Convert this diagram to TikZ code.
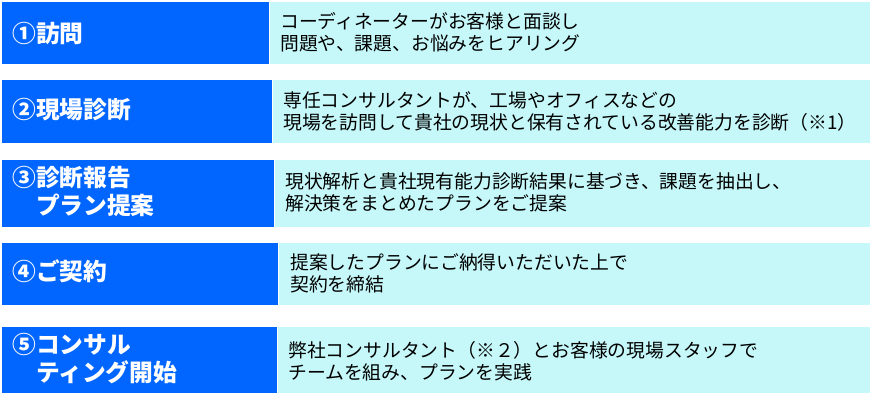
\documentclass[tikz,border=0pt]{standalone}
\usepackage{fontspec}
\setmainfont{Noto Sans CJK JP}
\definecolor{bluefill}{HTML}{0066FF}
\definecolor{cyanfill}{HTML}{C6F8FA}
\begin{document}
\begin{tikzpicture}[x=0.75pt,y=-0.75pt,
  title/.style={anchor=west, text=white, font=\fontsize{17.8}{21}\selectfont\bfseries, align=left, inner sep=0pt},
  desc/.style={anchor=west, text=black, font=\fontsize{14.1}{16.5}\selectfont, align=left, inner sep=0pt},
  head/.style={fill=bluefill},
  body/.style={fill=cyanfill}]
\useasboundingbox (0,0) rectangle (874,406);
\fill[white] (0,0) rectangle (874,406);
% row 1
\path[head] (2,2) rectangle (269,64);
\path[body] (270,2) rectangle (870,64);
\node[title] (t1) at (12,33) {①訪問};
\node[desc] (d1) at (280,32.5) {コーディネーターがお客様と面談し\\問題や、課題、お悩みをヒアリング};
% row 2
\path[head] (2,80) rectangle (272,143);
\path[body] (273,80) rectangle (870,143);
\node[title] (t2) at (12,110) {②現場診断};
\node[desc] (d2) at (283,111.5) {専任コンサルタントが、工場やオフィスなどの\\現場を訪問して貴社の現状と保有されている改善能力を診断（※1）};
% row 3
\path[head] (2,160) rectangle (274,227);
\path[body] (275,160) rectangle (870,227);
\node[title] (t3) at (12,191) {③診断報告\\\hspace*{1em}プラン提案};
\node[desc] (d3) at (285,192.5) {現状解析と貴社現有能力診断結果に基づき、課題を抽出し、\\解決策をまとめたプランをご提案};
% row 4
\path[head] (2,243) rectangle (278,305);
\path[body] (279,243) rectangle (870,305);
\node[title] (t4) at (12,271) {④ご契約};
\node[desc] (d4) at (290,273) {提案したプランにご納得いただいた上で\\契約を締結};
% row 5
\path[head] (2,327) rectangle (277,393);
\path[body] (278,327) rectangle (870,393);
\node[title] (t5) at (12,359) {⑤コンサル\\\hspace*{1em}ティング開始};
\node[desc] (d5) at (288,361) {弊社コンサルタント（※２）とお客様の現場スタッフで\\チームを組み、プランを実践};
\end{tikzpicture}
\end{document}
